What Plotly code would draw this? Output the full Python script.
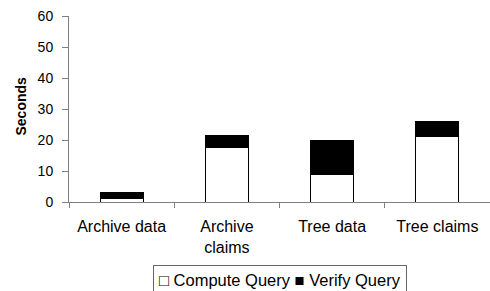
import plotly.graph_objects as go

categories = ["Archive data", "Archive<br>claims", "Tree data", "Tree claims"]
compute_query = [1.2, 17.5, 9.0, 21.0]
verify_query = [1.8, 4.1, 10.7, 5.1]
series_names = ["Compute Query", "Verify Query"]
y_ticks = [0, 10, 20, 30, 40, 50, 60]

FONT = "Liberation Sans, Arial, sans-serif"
AXIS = "#808080"

fig = go.Figure()
fig.add_trace(go.Bar(x=categories, y=compute_query, name=series_names[0],
                     marker=dict(color="white", line=dict(color="black", width=1)),
                     width=0.41))
fig.add_trace(go.Bar(x=categories, y=verify_query, name=series_names[1],
                     marker=dict(color="black", line=dict(color="black", width=1)),
                     width=0.41))

fig.update_layout(
    width=490, height=291,
    margin=dict(l=69, r=0, t=16, b=89),
    barmode="stack",
    showlegend=False,
    plot_bgcolor="white", paper_bgcolor="white",
    font=dict(family=FONT, color="black"),
    xaxis=dict(type="category", tickson="boundaries", ticks="outside", ticklen=5,
               tickcolor=AXIS, showline=True, linecolor=AXIS, linewidth=1,
               showgrid=False, tickfont=dict(size=16), automargin=False,
               ticklabelstandoff=10),
    yaxis=dict(range=[0, 60], tickvals=y_ticks, ticks="outside", ticklen=6,
               tickcolor=AXIS, showline=True, linecolor=AXIS, linewidth=1,
               showgrid=False, zeroline=False, tickfont=dict(size=14), automargin=False,
               ticklabelstandoff=6),
    annotations=[
        dict(text="<b>Seconds</b>", textangle=-90, xref="paper", yref="paper",
             x=(20 - 69) / 421, y=(202 - 106.5) / 186, xanchor="center", yanchor="middle",
             showarrow=False, font=dict(size=14)),
        dict(text="□ " + series_names[0] + " ■ " + series_names[1],
             xref="paper", yref="paper", x=(280 - 69) / 421, y=(202 - 280) / 186,
             xanchor="center", yanchor="middle", showarrow=False,
             font=dict(size=16.5), bordercolor="#666", borderwidth=1, borderpad=5,
             bgcolor="white"),
    ],
)

fig.write_html("out.html", config={"displayModeBar": False},
               post_script="document.body.style.margin='0';document.body.style.overflow='hidden';")
